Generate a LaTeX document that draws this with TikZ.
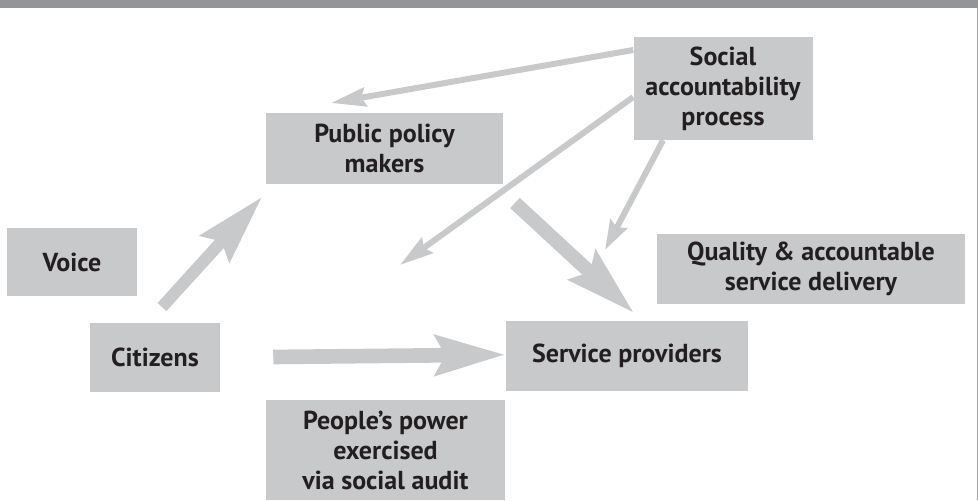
\documentclass[tikz,border=0pt]{standalone}
\usepackage{fontspec}
\setmainfont{PT Sans}
\usepackage{tikz}
\usetikzlibrary{arrows.meta,positioning}
\definecolor{boxgray}{HTML}{C8C9CB}
\definecolor{bargray}{HTML}{939598}
\definecolor{inkdark}{HTML}{231F20}
\tikzset{
  box/.style={fill=boxgray,text=inkdark,inner sep=0pt,align=center,
    font=\fontsize{19.5}{22.5}\selectfont\bfseries},
  bigarrow/.style={draw=boxgray,line width=#1,-{Stealth[length=52pt,width=29pt,inset=7pt]}},
  thinarrow/.style={draw=boxgray,line width=4.5pt,-{Stealth[length=#1,width=14pt,inset=3pt]}},
}

\begin{document}
\begin{tikzpicture}[x=0.75pt,y=-0.75pt]
		\useasboundingbox (0,0) rectangle (978,500);
		\fill[bargray] (0,0) rectangle (978,8);
		\draw[boxgray!80!black,line width=0.75pt] (977,8) -- (977,500);
		
		% boxes
		\node[box,minimum width=134.25pt,minimum height=77.25pt] (social) at (723,88.5) {Social\\accountability\\process};
		\node[box,minimum width=177.75pt,minimum height=53.25pt] (policy) at (384.5,148.5) {Public policy\\makers};
		\node[box,minimum width=97.5pt,minimum height=51pt] (voice) at (72,262) {Voice};
		\node[box,minimum width=97.5pt,minimum height=51.75pt] (citizens) at (155,357.5) {Citizens};
		\node[box,minimum width=181.5pt,minimum height=52.5pt] (service) at (627,356) {Service providers};
		\node[box,minimum width=231pt,minimum height=52.5pt] (quality) at (811,269) {Quality \& accountable\\service delivery};
		\node[box,minimum width=179.25pt,minimum height=75pt] (people) at (385.5,450) {People’s power\\exercised\\via social audit};
		
		% free ends of the arrows
		\coordinate (pmtip) at (331,103);
		\coordinate (midtip) at (400,265);
		\coordinate (sptip) at (605,250);
		\coordinate (qstart) at (515,203);
		\coordinate (sptop) at (634,313);
		\coordinate (vstart) at (162,307);
		\coordinate (pmlow) at (262,197);
		
		\draw[thinarrow=26pt] (social.west |- 0,50) -- (pmtip);
		\draw[thinarrow=25pt] (social.west |- 0,97) -- (midtip);
		\draw[thinarrow=22pt] (social.south west -| 663,0) -- (sptip);
		\draw[bigarrow=10.5pt] (qstart) -- (sptop);
		\draw[bigarrow=9pt] (vstart) -- (pmlow);
		\draw[bigarrow=11pt,shorten <=53pt*0.75] (citizens.east) -- ([yshift=1pt]service.west);
		%\draw[bigarrow=11pt] (citizens.east) -- (service.west);
	\end{tikzpicture}
\end{document}
